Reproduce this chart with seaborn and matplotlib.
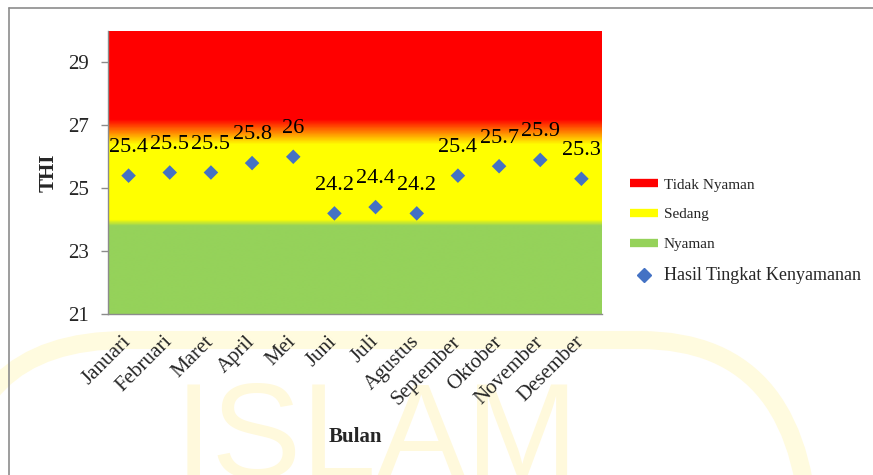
import numpy as np
import pandas as pd
import matplotlib
matplotlib.use("Agg")
import matplotlib.pyplot as plt
import seaborn as sns
from matplotlib.colors import LinearSegmentedColormap
from matplotlib.lines import Line2D
from matplotlib.patches import FancyBboxPatch

# Monthly temperature-humidity index
bulan = ["Januari", "Februari", "Maret", "April", "Mei", "Juni", "Juli",
         "Agustus", "September", "Oktober", "November", "Desember"]
thi = [25.4, 25.5, 25.5, 25.8, 26.0, 24.2, 24.4, 24.2, 25.4, 25.7, 25.9, 25.3]
label_teks = ["25.4", "25.5", "25.5", "25.8", "26", "24.2", "24.4", "24.2",
              "25.4", "25.7", "25.9", "25.3"]

# Comfort zones (THI stops for the shaded background)
zona_nama = ["Tidak Nyaman", "Sedang", "Nyaman"]
zona_warna = ["#FF0000", "#FFFF00", "#95D25A"]
stop_thi = [21.0, 23.8, 24.0, 26.4, 27.2, 30.0]
stop_warna = ["#95D25A", "#95D25A", "#FFFF00", "#FFFF00", "#FF0000", "#FF0000"]
y_ticks = [21, 23, 25, 27, 29]

df = pd.DataFrame({"Bulan": bulan, "THI": thi})

sns.set_theme(style="white")
plt.rcParams["font.family"] = ["Liberation Serif", "DejaVu Serif"]

W, H = 873, 475
fig = plt.figure(figsize=(W / 100, H / 100), dpi=100)

# faint background emblem (inches from the lower-left corner)
fig.patches.append(FancyBboxPatch((-0.43, -2.5), 8.53, 3.85,
                                  boxstyle="round,pad=0,rounding_size=1.7",
                                  transform=fig.dpi_scale_trans, fill=False,
                                  edgecolor="#FFFBDF", lw=13, zorder=-5))
fig.text(175 / W, -3 / H, "ISLAM", fontsize=97, color="#FFF9DC",
         family=["Liberation Sans", "DejaVu Sans"], va="baseline", ha="left", zorder=-5)

# outer frame
fig.add_artist(Line2D([9 / W, 1], [1 - 8 / H, 1 - 8 / H], transform=fig.transFigure,
                      color="#8C8C8C", lw=1.2))
fig.add_artist(Line2D([9 / W, 9 / W], [0, 1 - 8 / H], transform=fig.transFigure,
                      color="#8C8C8C", lw=1.2))

ax = fig.add_axes([108 / W, 1 - 314 / H, (602 - 108) / W, (314 - 31) / H])
ax.patch.set_alpha(0)

# shaded comfort background
y0, y1 = stop_thi[0], stop_thi[-1]
pos = [(v - y0) / (y1 - y0) for v in stop_thi]
cmap = LinearSegmentedColormap.from_list("zona", list(zip(pos, stop_warna)))
grad = np.linspace(y0, y1, 600).reshape(-1, 1)
ax.imshow(grad, cmap=cmap, vmin=y0, vmax=y1, origin="lower", aspect="auto",
          extent=[-0.5, len(bulan) - 0.5, y0, y1], zorder=0, interpolation="bilinear")

sns.scatterplot(data=df, x="Bulan", y="THI", marker="D", color="#4472C4", s=55,
                edgecolor="none", ax=ax, zorder=3, legend=False)

for i, (v, t) in enumerate(zip(thi, label_teks)):
    ax.annotate(t, (i, v), xytext=(0, 17), textcoords="offset points",
                ha="center", va="baseline", fontsize=16, color="black", zorder=4)

ax.set_xlim(-0.5, len(bulan) - 0.5)
ax.set_ylim(y0, y1)
ax.set_yticks(y_ticks)
ax.set_yticklabels([str(v) for v in y_ticks], fontsize=15)
ax.set_xticks(range(len(bulan)))
ax.set_xticklabels(bulan, rotation=45, ha="right", va="center", rotation_mode="anchor",
                   fontsize=15)
ax.set_xticks(np.arange(-0.5, len(bulan), 1.0), minor=True)
ax.tick_params(axis="x", which="major", length=0, pad=18)
ax.tick_params(axis="x", which="minor", length=5, color="#8C8C8C", width=1, direction="out")
ax.tick_params(axis="y", which="major", length=5, color="#8C8C8C", width=1, pad=9,
               direction="out", left=True)

for s in ["top", "right"]:
    ax.spines[s].set_visible(False)
for s in ["left", "bottom"]:
    ax.spines[s].set_color("#8C8C8C")
    ax.spines[s].set_linewidth(1)

ax.set_xlabel("Bulan", fontsize=15, fontweight="bold")
ax.xaxis.label.set_va("center")
ax.xaxis.set_label_coords(0.5, (314 - 437) / 283)
ax.set_ylabel("THI", fontsize=15, fontweight="bold")
ax.yaxis.label.set_va("center")
ax.yaxis.set_label_coords((49 - 108) / 494, 0.5)

handles = [Line2D([], [], color=c, lw=6, solid_capstyle="butt") for c in zona_warna]
handles.append(Line2D([], [], color="#4472C4", marker="D", markersize=7, lw=0))
labels = zona_nama + ["Hasil Tingkat Kenyamanan"]
leg = fig.legend(handles, labels, loc="upper left", bbox_to_anchor=(630 / W, 1 - 178 / H),
                 frameon=False, fontsize=11, handlelength=1.85, handletextpad=0.35,
                 labelspacing=1.05, borderpad=0, borderaxespad=0)
leg.get_texts()[-1].set_fontsize(13)

fig.savefig("out.png", dpi=100)
